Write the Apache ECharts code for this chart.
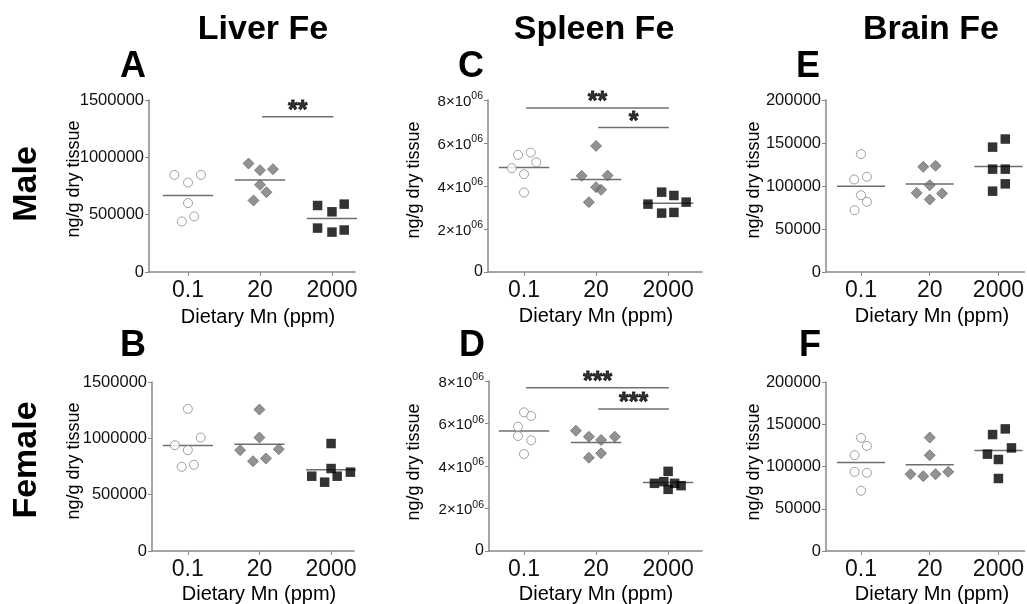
<!DOCTYPE html>
<html>
<head>
<meta charset="utf-8">
<script src="https://cdn.jsdelivr.net/npm/echarts@6/dist/echarts.min.js"></script>
<style>
  html, body { margin: 0; padding: 0; background: #fff; }
  #main { width: 1027px; height: 604px; }
</style>
</head>
<body>
<div id="main"></div>
<script>
//饮食分组
var groups = ['0.1', '20', '2000'];

//每个面板的数值（按分组：0.1 / 20 / 2000 ppm）
var liverMale = [
  [847000, 780000, 847000, 601000, 441000, 485000],
  [946000, 888000, 897000, 760000, 696000, 624000],
  [580000, 525000, 592000, 383000, 348000, 366000]
];
var liverMaleJitter = [
  [-0.19, 0, 0.18, 0, -0.085, 0.085],
  [-0.16, 0, 0.18, 0, 0.09, -0.09],
  [-0.2, 0, 0.17, -0.2, 0, 0.17]
];
var liverFemale = [
  [1261000, 939000, 1007000, 895000, 747000, 765000],
  [1255000, 1007000, 895000, 904000, 797000, 821000],
  [954000, 732000, 664000, 700000, 664000, 611000]
];
var liverFemaleJitter = [
  [0, -0.18, 0.18, 0, -0.085, 0.085],
  [0, 0, -0.27, 0.27, -0.09, 0.09],
  [0, 0, -0.27, 0.27, 0.085, -0.09]
];
var spleenMale = [
  [5447000, 5555000, 5106000, 4828000, 4549000, 3698000],
  [5865000, 4472000, 4487000, 3946000, 3822000, 3250000],
  [3714000, 3559000, 3157000, 3250000, 2739000, 2770000]
];
var spleenMaleJitter = [
  [-0.084, 0.093, 0.17, -0.17, 0, 0],
  [0, -0.2, 0.16, 0, 0.07, -0.1],
  [-0.09, 0.08, -0.28, 0.25, -0.09, 0.08]
];
var spleenFemale = [
  [6525000, 6353000, 5851000, 5412000, 5208000, 4565000],
  [5663000, 5380000, 5224000, 5380000, 4392000, 4596000],
  [3749000, 3184000, 3263000, 3184000, 3075000, 2902000]
];
var spleenFemaleJitter = [
  [0, 0.1, -0.084, -0.084, 0.1, 0],
  [-0.28, -0.1, 0.07, 0.26, -0.1, 0.07],
  [0, -0.19, -0.06, 0.09, 0.18, 0]
];
var brainMale = [
  [137100, 107600, 110700, 89300, 81600, 71800],
  [122300, 123500, 101000, 92000, 91300, 84300],
  [154600, 145200, 119600, 119600, 102500, 94000]
];
var brainMaleJitter = [
  [0, -0.1, 0.085, 0, 0.085, -0.094],
  [-0.094, 0.085, 0, -0.19, 0.18, 0],
  [0.1, -0.085, -0.085, 0.1, 0.1, -0.085]
];
var brainFemale = [
  [133900, 124400, 113400, 93700, 92500, 71300],
  [134300, 113400, 90900, 88600, 90900, 93700],
  [144500, 137800, 122000, 114600, 108300, 85800]
];
var brainFemaleJitter = [
  [0, 0.085, -0.094, -0.094, 0.085, 0],
  [0, 0, -0.28, -0.094, 0.085, 0.27],
  [0.1, -0.085, 0.19, -0.16, 0, 0]
];

//显著性标记（起止分组位置、高度、星号）
var sigLiverMale = [{ from: 2.03, to: 3.02, y: 1355000, text: '**' }];
var sigSpleenMale = [
  { from: 1.03, to: 3.01, y: 7630000, text: '**' },
  { from: 2.03, to: 3.01, y: 6716000, text: '*' }
];
var sigSpleenFemale = [
  { from: 1.03, to: 3.01, y: 7686000, text: '***' },
  { from: 2.03, to: 3.01, y: 6682000, text: '***' }
];

var FONT = "'Liberation Sans', Arial, sans-serif";
var markerStyles = [
  { symbol: 'circle', size: 9, itemStyle: { color: '#fff', borderColor: '#8a8a8a', borderWidth: 1 } },
  { symbol: 'diamond', size: 11, itemStyle: { color: '#777', borderColor: '#5a5a5a', borderWidth: 0.8 } },
  { symbol: 'rect', size: 9.5, itemStyle: { color: '#000' } }
];

function sciLabel(v) {
  if (v === 0) return '{z|0}';
  return '{m|' + (v / 1000000) + '×10}{s|06}';
}

var panels = [
  { vals: liverMale, jit: liverMaleJitter, sig: sigLiverMale, max: 1500000, step: 500000,
    grid: { left: 149, top: 100, width: 206, height: 172 }, xmin: 0.458, xmax: 3.32 },
  { vals: liverFemale, jit: liverFemaleJitter, sig: [], max: 1500000, step: 500000,
    grid: { left: 152, top: 382, width: 202, height: 169 }, xmin: 0.5, xmax: 3.32 },
  { vals: spleenMale, jit: spleenMaleJitter, sig: sigSpleenMale, max: 8000000, step: 2000000, sci: true,
    grid: { left: 488, top: 100, width: 214, height: 172 }, xmin: 0.5, xmax: 3.47 },
  { vals: spleenFemale, jit: spleenFemaleJitter, sig: sigSpleenFemale, max: 8000000, step: 2000000, sci: true,
    grid: { left: 489, top: 381, width: 213, height: 170 }, xmin: 0.514, xmax: 3.47 },
  { vals: brainMale, jit: brainMaleJitter, sig: [], max: 200000, step: 50000,
    grid: { left: 826, top: 100, width: 205, height: 172 }, xmin: 0.49, xmax: 3.38 },
  { vals: brainFemale, jit: brainFemaleJitter, sig: [], max: 200000, step: 50000,
    grid: { left: 826, top: 382, width: 205, height: 169 }, xmin: 0.49, xmax: 3.38 }
];

var grids = [], xAxes = [], yAxes = [], series = [];

panels.forEach(function (p, i) {
  grids.push(p.grid);
  xAxes.push({
    gridIndex: i, type: 'value', min: p.xmin, max: p.xmax,
    splitLine: { show: false },
    axisLine: { onZero: false, lineStyle: { color: '#888', width: 1.5 } },
    axisTick: { customValues: [1, 2, 3], length: 4, lineStyle: { color: '#888' } },
    axisLabel: {
      customValues: [1, 2, 3], margin: 7, color: '#111', fontSize: 23, fontFamily: FONT,
      formatter: function (v) { return groups[Math.round(v) - 1]; }
    }
  });
  yAxes.push({
    gridIndex: i, type: 'value', min: 0, max: p.max, interval: p.step,
    splitLine: { show: false },
    axisLine: { show: true, lineStyle: { color: '#888', width: 1.5 } },
    axisTick: { show: true, length: 4, lineStyle: { color: '#888' } },
    axisLabel: p.sci ? {
      margin: 5, color: '#111', fontFamily: FONT, fontSize: 16, formatter: sciLabel,
      rich: {
        z: { fontSize: 16, fontFamily: FONT, color: '#111' },
        m: { fontSize: 15, fontFamily: FONT, color: '#111', lineHeight: 18, verticalAlign: 'bottom' },
        s: { fontSize: 10.5, fontFamily: FONT, color: '#111', lineHeight: 10, verticalAlign: 'top' }
      }
    } : {
      margin: 5, color: '#111', fontSize: 16.5, fontFamily: FONT,
      formatter: function (v) { return String(v); }
    }
  });

  p.vals.forEach(function (vals, g) {
    var c = g + 1;
    var ms = markerStyles[g];
    series.push({
      type: 'scatter', xAxisIndex: i, yAxisIndex: i, z: 3,
      symbol: ms.symbol, symbolSize: ms.size, itemStyle: ms.itemStyle,
      data: vals.map(function (v, k) { return [c + p.jit[g][k], v]; })
    });
    var mean = vals.reduce(function (a, b) { return a + b; }, 0) / vals.length;
    series.push({
      type: 'line', xAxisIndex: i, yAxisIndex: i, z: 2, symbol: 'none', silent: true,
      lineStyle: { color: '#6e6e6e', width: 1.5 },
      data: [[c - 0.35, mean], [c + 0.35, mean]]
    });
  });

  p.sig.forEach(function (s) {
    series.push({
      type: 'line', xAxisIndex: i, yAxisIndex: i, symbol: 'none', silent: true,
      lineStyle: { color: '#6e6e6e', width: 1.5 },
      data: [[s.from, s.y], [s.to, s.y]]
    });
    series.push({
      type: 'scatter', xAxisIndex: i, yAxisIndex: i, symbolSize: 0.1, silent: true,
      itemStyle: { color: '#000' },
      label: {
        show: true, position: 'top', distance: -7, formatter: s.text,
        fontSize: 25, fontWeight: 'bold', color: '#000', fontFamily: FONT,
        textBorderColor: '#000', textBorderWidth: 0.8
      },
      data: [[(s.from + s.to) / 2, s.y]]
    });
  });
});

//标题、字母、轴名称
function txt(x, y, text, size, bold, rot) {
  return {
    type: 'text', x: x, y: y, rotation: rot || 0,
    style: {
      text: text, x: 0, y: 0, align: 'center', verticalAlign: 'middle',
      font: (bold ? 'bold ' : '') + size + 'px ' + FONT, fill: '#000'
    }
  };
}
var R = Math.PI / 2;
var graphics = [
  txt(263, 30, 'Liver Fe', 34, true), txt(594, 30, 'Spleen Fe', 34, true), txt(931, 30, 'Brain Fe', 34, true),
  txt(133, 67, 'A', 36, true), txt(471, 67, 'C', 36, true), txt(808, 67, 'E', 36, true),
  txt(133, 346, 'B', 36, true), txt(472, 346, 'D', 36, true), txt(810, 346, 'F', 36, true),
  txt(27, 184, 'Male', 34, true, R), txt(27, 460, 'Female', 34, true, R),
  txt(74, 179, 'ng/g dry tissue', 18, false, R), txt(74, 461, 'ng/g dry tissue', 18, false, R),
  txt(414, 180, 'ng/g dry tissue', 18, false, R), txt(414, 462, 'ng/g dry tissue', 18, false, R),
  txt(754, 180, 'ng/g dry tissue', 18, false, R), txt(754, 462, 'ng/g dry tissue', 18, false, R),
  txt(258, 317, 'Dietary Mn (ppm)', 20), txt(259, 594, 'Dietary Mn (ppm)', 20),
  txt(596, 316, 'Dietary Mn (ppm)', 20), txt(596, 594, 'Dietary Mn (ppm)', 20),
  txt(932, 316, 'Dietary Mn (ppm)', 20), txt(932, 594, 'Dietary Mn (ppm)', 20)
];

var chart = echarts.init(document.getElementById('main'));
chart.setOption({
  animation: false,
  backgroundColor: '#fff',
  grid: grids,
  xAxis: xAxes,
  yAxis: yAxes,
  series: series,
  graphic: graphics
});

window.addEventListener('resize', function () {
  chart.resize();
});
</script>
</body>
</html>
